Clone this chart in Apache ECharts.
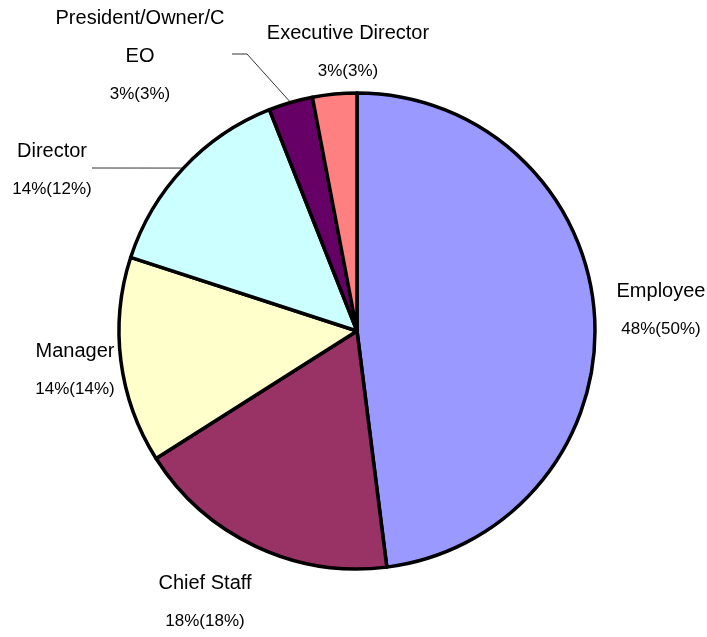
<!DOCTYPE html>
<html>
<head>
<meta charset="utf-8">
<script src="https://cdn.jsdelivr.net/npm/echarts@6/dist/echarts.min.js"></script>
<style>
html,body{margin:0;padding:0;background:#fff;}
#chart{width:707px;height:637px;}
</style>
</head>
<body>
<div id="chart"></div>
<script>
const categories = ['Employee', 'Chief Staff', 'Manager', 'Director', 'President/Owner/CEO', 'Executive Director'];
const sharePct = [48, 18, 14, 14, 3, 3];
const prevPct = [50, 18, 14, 12, 3, 3];

const colors = ['#9999FF', '#993366', '#FFFFCC', '#CCFFFF', '#660066', '#FF8080'];
const labelPos = [[661, 310], [205, 602], [75, 370], [52, 170], [140, 56], [348, 52]];
// label line: optional elbow point (null = straight) and end point
const lineEnds = [null, null, null, [null, [92, 168]], [[247, 54], [232, 54]], null];

const FONT = 'Liberation Sans, Arial, sans-serif';
const NAME_SIZE = 20;
const MAX_LABEL_W = 172;

const measureCtx = document.createElement('canvas').getContext('2d');
measureCtx.font = NAME_SIZE + 'px ' + FONT;
function wrapName(text) {
  const lines = [];
  let cur = '';
  for (const ch of text) {
    if (cur && measureCtx.measureText(cur + ch).width > MAX_LABEL_W) {
      lines.push(cur);
      cur = ch;
    } else {
      cur += ch;
    }
  }
  if (cur) lines.push(cur);
  return lines;
}

const chart = echarts.init(document.getElementById('chart'));
chart.setOption({
  animation: false,
  series: [{
    type: 'pie',
    center: [357, 331],
    radius: 238,
    startAngle: 90,
    clockwise: true,
    avoidLabelOverlap: false,
    itemStyle: { borderColor: '#000', borderWidth: 3.5 },
    emphasis: { disabled: true },
    label: {
      show: true,
      position: 'outside',
      color: '#000',
      fontFamily: FONT,
      formatter: function (p) {
        const nameLines = wrapName(p.name).map(function (l) { return '{n|' + l + '}'; });
        return nameLines.join('\n') + '\n{p|' + sharePct[p.dataIndex] + '%(' + prevPct[p.dataIndex] + '%)}';
      },
      rich: {
        n: { fontSize: NAME_SIZE, lineHeight: 38, color: '#000', fontFamily: FONT, align: 'center' },
        p: { fontSize: 17, lineHeight: 38, color: '#000', fontFamily: FONT, align: 'center' }
      }
    },
    labelLine: { show: true, length: 10, length2: 10, lineStyle: { color: '#333', width: 1 } },
    labelLayout: function (params) {
      const i = params.dataIndex;
      const res = { x: labelPos[i][0], y: labelPos[i][1], align: 'center', verticalAlign: 'middle' };
      if (lineEnds[i] && params.labelLinePoints) {
        const start = params.labelLinePoints[0];
        const end = lineEnds[i][1];
        const mid = lineEnds[i][0] || [(start[0] + end[0]) / 2, (start[1] + end[1]) / 2];
        res.labelLinePoints = [start, mid, end];
      }
      return res;
    },
    data: categories.map(function (c, i) {
      const item = { name: c, value: sharePct[i], itemStyle: { color: colors[i] } };
      if (!lineEnds[i]) item.labelLine = { show: false };
      return item;
    })
  }]
});
</script>
</body>
</html>
